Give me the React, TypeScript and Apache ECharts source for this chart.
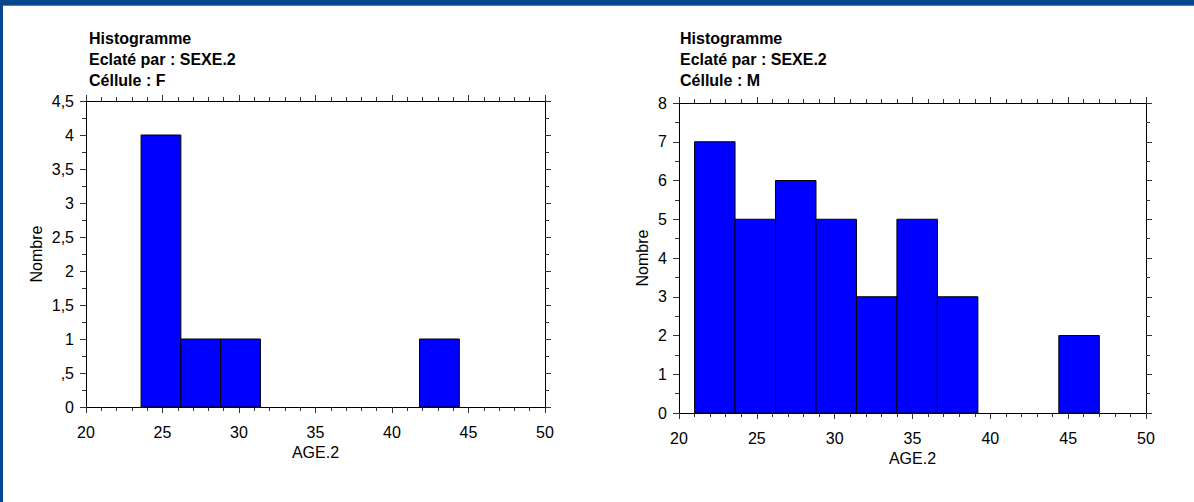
import React, { useEffect, useRef } from "react";
import * as echarts from "echarts";

const binWidth = 2.6;
const startsF = [23.6, 26.2, 28.8, 41.8];
const countsF = [4, 1, 1, 1];
const startsM = [21, 23.6, 26.2, 28.8, 31.4, 34, 36.6, 44.4];
const countsM = [7, 5, 6, 5, 3, 5, 3, 2];
const titleLinesF = ["Histogramme", "Eclaté par : SEXE.2", "Céllule : F"];
const titleLinesM = ["Histogramme", "Eclaté par : SEXE.2", "Céllule : M"];
const xName = "AGE.2";
const yName = "Nombre";

const FONT = "'Liberation Sans', Arial, sans-serif";

function fmtY(v: number) {
  let s = String(v).replace(".", ",");
  if (s.startsWith("0,")) s = s.slice(1);
  return s;
}

function buildData(starts: number[], counts: number[]) {
  return starts.map((s, i) => [s, +(s + binWidth).toFixed(2), counts[i]]);
}

const renderItem = (params: any, api: any) => {
  const p0 = api.coord([api.value(0), api.value(2)]);
  const p1 = api.coord([api.value(1), 0]);
  return {
    type: "rect",
    shape: { x: p0[0], y: p0[1], width: p1[0] - p0[0], height: p1[1] - p0[1] },
    style: { fill: "#0000ff", stroke: "#000000", lineWidth: 1 },
  };
};

export default function App() {
  const ref = useRef<HTMLDivElement>(null);
  useEffect(() => {
    if (!ref.current) return;
    const chart = echarts.init(ref.current, null, { renderer: "svg" });
    const axisLine = { show: true, onZero: false, lineStyle: { color: "#000", width: 1 } };
    const tickStyle = { color: "#333", width: 1 };
    const mkX = (gi: number, pos: string, labels: boolean) => ({
      type: "value",
      gridIndex: gi,
      position: pos,
      min: 20,
      max: 50,
      interval: 5,
      axisLine,
      axisTick: { show: true, inside: false, length: 6, lineStyle: tickStyle },
      minorTick: { show: true, splitNumber: 5, length: 4, lineStyle: tickStyle },
      splitLine: { show: false },
      axisLabel: {
        show: labels,
        color: "#000",
        fontFamily: FONT,
        fontSize: 16,
        margin: 17,
      },
      name: labels ? xName : "",
      nameLocation: "middle",
      nameGap: 37,
      nameTextStyle: { color: "#000", fontFamily: FONT, fontSize: 16 },
    });
    const mkY = (gi: number, pos: string, labels: boolean, max: number, interval: number, gap: number) => ({
      type: "value",
      gridIndex: gi,
      position: pos,
      min: 0,
      max,
      interval,
      axisLine,
      axisTick: { show: true, inside: false, length: 6, lineStyle: tickStyle },
      minorTick: { show: true, splitNumber: 2, length: 4, lineStyle: tickStyle },
      splitLine: { show: false },
      axisLabel: {
        show: labels,
        color: "#000",
        fontFamily: FONT,
        fontSize: 16,
        margin: 12,
        formatter: fmtY,
      },
      name: labels ? yName : "",
      nameLocation: "middle",
      nameGap: gap,
      nameTextStyle: { color: "#000", fontFamily: FONT, fontSize: 16 },
    });
    const titleGraphic = (x: number, lines: string[]) =>
      lines.map((t, i) => ({
        type: "text",
        left: x,
        top: 30 + i * 21,
        style: {
          text: t,
          fill: "#000",
          font: `bold 16px ${FONT}`,
        },
      }));
    chart.setOption({
      animation: false,
      backgroundColor: "#ffffff",
      grid: [
        { left: 86, right: 649, top: 101, bottom: 95 },
        { left: 679, right: 48, top: 103, bottom: 89 },
      ],
      xAxis: [mkX(0, "bottom", true), mkX(0, "top", false), mkX(1, "bottom", true), mkX(1, "top", false)],
      yAxis: [
        mkY(0, "left", true, 4.5, 0.5, 42),
        mkY(0, "right", false, 4.5, 0.5, 42),
        mkY(1, "left", true, 8, 1, 29),
        mkY(1, "right", false, 8, 1, 29),
      ],
      graphic: [...titleGraphic(89, titleLinesF), ...titleGraphic(680, titleLinesM)],
      series: [
        {
          type: "custom",
          xAxisIndex: 0,
          yAxisIndex: 0,
          renderItem,
          encode: { x: [0, 1], y: 2 },
          data: buildData(startsF, countsF),
        },
        {
          type: "custom",
          xAxisIndex: 2,
          yAxisIndex: 2,
          renderItem,
          encode: { x: [0, 1], y: 2 },
          data: buildData(startsM, countsM),
        },
      ],
    });
    return () => chart.dispose();
  }, []);
  return (
    <div style={{ position: "fixed", left: 0, top: 0, width: 1194, height: 502, background: "#fff" }}>
      <div ref={ref} style={{ position: "absolute", left: 0, top: 0, width: 1194, height: 502 }} />
      <div style={{ position: "absolute", left: 0, top: 0, width: 1194, height: 5, background: "#05468f" }} />
      <div style={{ position: "absolute", left: 0, top: 5, width: 1194, height: 1, background: "#4f7fb8" }} />
      <div style={{ position: "absolute", left: 0, top: 0, width: 3, height: 502, background: "#05468f" }} />
    </div>
  );
}
